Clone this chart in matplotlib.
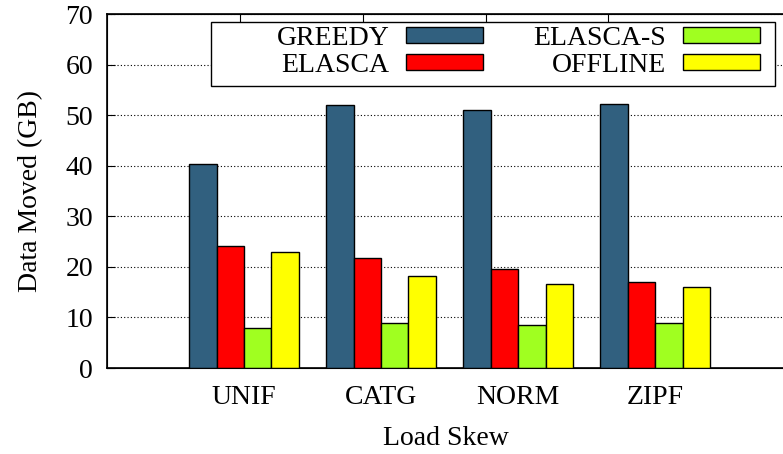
import matplotlib
matplotlib.use("Agg")
import matplotlib.pyplot as plt
from matplotlib.patches import Rectangle
import numpy as np

# Données
categories = ["UNIF", "CATG", "NORM", "ZIPF"]
series = ["GREEDY", "ELASCA", "ELASCA-S", "OFFLINE"]
greedy = [40.3, 52.0, 51.0, 52.2]
elasca = [24.1, 21.7, 19.6, 17.1]
elasca_s = [7.9, 9.0, 8.5, 9.0]
offline = [22.9, 18.1, 16.6, 16.0]
colors = ["#31607f", "#ff0000", "#a0ff20", "#ffff00"]

plt.rcParams["font.family"] = ["Liberation Serif", "DejaVu Serif"]
plt.rcParams["font.size"] = 20

fig = plt.figure(figsize=(7.83, 4.54), dpi=100)
ax = fig.add_axes([0.1367, 0.1894, 0.8645, 0.7797])

x = np.arange(len(categories))
width = 0.2
values = [greedy, elasca, elasca_s, offline]
for j, (name, vals, c) in enumerate(zip(series, values, colors)):
    ax.bar(x + (j - 1.5) * width, vals, width, color=c, edgecolor="black",
           linewidth=1.0, label=name, zorder=3)

ax.set_xlim(-1.0, 3.94)
ax.set_ylim(0, 70)
ax.set_yticks(range(0, 80, 10))
ax.set_xticks(x)
ax.set_xticklabels(categories)
ax.tick_params(axis="x", length=0, pad=12)
ax.tick_params(axis="y", direction="in", length=6, pad=10)
ax.yaxis.grid(True, linestyle=(0, (1, 2)), color="black", linewidth=0.8, zorder=0)
ax.set_axisbelow(True)
for s in ax.spines.values():
    s.set_linewidth(1.2)

# petites graduations en haut
ax2 = ax.twiny()
ax2.set_xlim(-1.084, 4.43)
ax2.set_xticks([0, 1, 2, 3])
ax2.set_xticklabels([])
ax2.tick_params(axis="x", direction="in", length=6)

ax.set_ylabel("Data Moved (GB)", labelpad=16)
ax.set_xlabel("Load Skew", labelpad=12)

# cadre de la légende (style gnuplot, plus large que le contenu)
box = Rectangle((0.2695, 0.8106), 0.7203, 0.141, transform=fig.transFigure,
                facecolor="white", edgecolor="black", linewidth=1.0,
                zorder=4, clip_on=False)
ax.add_patch(box)

leg = ax.legend(ncol=2, loc="upper right", bbox_to_anchor=(0.9706, 0.9427),
                bbox_transform=fig.transFigure,
                markerfirst=False, frameon=False, handlelength=2.77,
                handleheight=0.5, columnspacing=1.83, labelspacing=0.08,
                borderpad=0.0, handletextpad=0.6, borderaxespad=0)
leg.set_zorder(5)

fig.savefig("out.png", dpi=100)
